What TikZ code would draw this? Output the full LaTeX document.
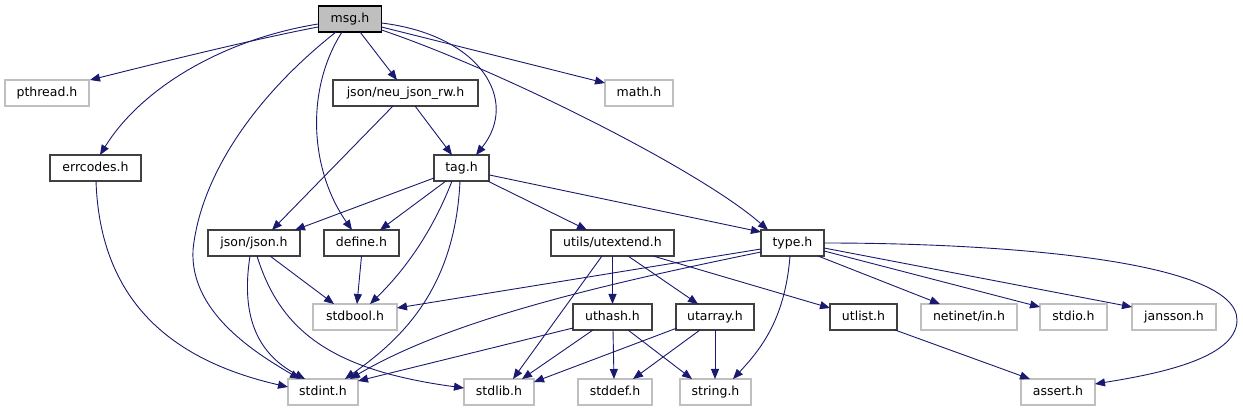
\documentclass[tikz,border=0pt]{standalone}
\usepackage{fontspec}
\newfontfamily\dvs{DejaVu Sans}
\usetikzlibrary{arrows.meta,calc}
\definecolor{mblue}{HTML}{191970}
\definecolor{gtwo}{HTML}{404040}
\definecolor{gsev}{HTML}{BFBFBF}
\tikzset{
  basebox/.style={draw, minimum height=26pt, inner sep=0pt, text height=9.5pt, text depth=2.5pt,
    font=\dvs\fontsize{12.5}{14}\selectfont, line width=1.1pt, anchor=center},
  intbox/.style={basebox, draw=gtwo, fill=white},
  extbox/.style={basebox, draw=gsev, fill=white},
  rootbox/.style={basebox, draw=black, fill=gsev},
  dep/.style={draw=mblue, line width=0.9pt, -{Triangle[length=10pt,width=8pt]}}
}
\begin{document}
\begin{tikzpicture}[x=1pt,y=-1pt]
\useasboundingbox (0,0) rectangle (1243,411);
% nodes
\node[rootbox, minimum width=63pt] (msg) at (350,19) {msg.h};
\node[extbox, minimum width=84pt] (pthread) at (47,93) {pthread.h};
\node[intbox, minimum width=145pt] (neu) at (405.5,93) {json/neu\_json\_rw.h};
\node[extbox, minimum width=68pt] (math) at (639,93) {math.h};
\node[intbox, minimum width=91pt] (errcodes) at (95.5,168) {errcodes.h};
\node[intbox, minimum width=55pt] (tag) at (461.5,168) {tag.h};
\node[intbox, minimum width=92pt] (json) at (254,243) {json/json.h};
\node[intbox, minimum width=75pt] (define) at (361.5,243) {define.h};
\node[intbox, minimum width=123pt] (utext) at (612.5,243) {utils/utextend.h};
\node[intbox, minimum width=63pt] (type) at (792.5,243) {type.h};
\node[extbox, minimum width=84pt] (stdbool) at (355,317) {stdbool.h};
\node[intbox, minimum width=79pt] (uthash) at (612.5,317) {uthash.h};
\node[intbox, minimum width=78pt] (utarray) at (715,317) {utarray.h};
\node[intbox, minimum width=67pt] (utlist) at (863.5,317) {utlist.h};
\node[extbox, minimum width=96pt] (netinet) at (969,317) {netinet/in.h};
\node[extbox, minimum width=67pt] (stdio) at (1073.5,317) {stdio.h};
\node[extbox, minimum width=84pt] (jansson) at (1174,317) {jansson.h};
\node[extbox, minimum width=70pt] (stdint) at (323,392) {stdint.h};
\node[extbox, minimum width=70pt] (stdlib) at (499,392) {stdlib.h};
\node[extbox, minimum width=74pt] (stddef) at (615,392) {stddef.h};
\node[extbox, minimum width=71pt] (string) at (715.5,392) {string.h};
\node[extbox, minimum width=74pt] (assert) at (1058,392) {assert.h};
% edges from msg.h
\draw[dep] ($(msg)+(-32,8)$) .. controls (250,40) and (150,65) .. ($(pthread)+(43,-13)$);
\draw[dep] ($(msg)+(-32,5)$) .. controls (220,40) and (140,90) .. ($(errcodes)+(4.5,-13)$);
\draw[dep] ($(msg)+(-14,13)$) .. controls (250,100) and (200,180) .. (193,250) .. controls (190,310) and (250,350) .. ($(stdint)+(-23,-13)$);
\draw[dep] ($(msg)+(-8,13)$) .. controls (305,90) and (310,170) .. ($(define)+(-9.5,-13)$);
\draw[dep] ($(msg)+(10,13)$) -- ($(neu)+(-8.5,-13)$);
\draw[dep] ($(msg)+(31.5,4)$) .. controls (480,35) and (520,100) .. ($(tag)+(14.5,-13)$);
\draw[dep] ($(msg)+(31.5,8)$) -- ($(math)+(-34,-10)$);
\draw[dep] ($(msg)+(31.5,11)$) .. controls (500,70) and (700,170) .. ($(type)+(-24.5,-13)$);
% neu_json_rw
\draw[dep] ($(neu)+(-12.5,13)$) -- ($(json)+(18,-13)$);
\draw[dep] ($(neu)+(9.5,13)$) -- ($(tag)+(-9.5,-13)$);
% tag
\draw[dep] ($(tag)+(-27.5,10)$) -- ($(json)+(41,-13)$);
\draw[dep] ($(tag)+(-15.5,13)$) -- ($(define)+(18.5,-13)$);
\draw[dep] ($(tag)+(-9.5,13)$) .. controls (435,225) and (410,265) .. ($(stdbool)+(15,-13)$);
\draw[dep] ($(tag)+(-1.5,13)$) .. controls (455,290) and (400,340) .. ($(stdint)+(22,-13)$);
\draw[dep] ($(tag)+(26,13)$) -- ($(utext)+(-25.5,-13)$);
\draw[dep] ($(tag)+(28,7)$) -- ($(type)+(-31.5,-11)$);
% errcodes
\draw[dep] ($(errcodes)+(0.5,13)$) .. controls (100,300) and (170,360) .. ($(stdint)+(-35,-5)$);
% json
\draw[dep] ($(json)+(16,13)$) -- ($(stdbool)+(-21,-13)$);
\draw[dep] ($(json)+(-4,13)$) .. controls (240,320) and (260,355) .. ($(stdint)+(-18,-13)$);
\draw[dep] ($(json)+(3,13)$) .. controls (280,330) and (330,370) .. ($(stdlib)+(-35,-4)$);
% define
\draw[dep] ($(define)+(0,13)$) -- ($(stdbool)+(2,-13)$);
% utextend
\draw[dep] ($(utext)+(-10.5,13)$) -- ($(stdlib)+(14,-13)$);
\draw[dep] ($(utext)+(0,13)$) -- ($(uthash)+(0,-13)$);
\draw[dep] ($(utext)+(15.5,13)$) -- ($(utarray)+(-17,-13)$);
\draw[dep] ($(utext)+(40.5,13)$) -- ($(utlist)+(-33.5,-9)$);
% type
\draw[dep] ($(type)+(-31.5,6)$) -- ($(stdbool)+(42,-9)$);
\draw[dep] ($(type)+(-31.5,9)$) .. controls (600,285) and (450,320) .. ($(stdint)+(27,-13)$);
\draw[dep] ($(type)+(-2.5,13)$) .. controls (785,320) and (760,350) .. ($(string)+(17.5,-13)$);
\draw[dep] ($(type)+(25.5,13)$) -- ($(netinet)+(-29,-13)$);
\draw[dep] ($(type)+(31.5,8)$) -- ($(stdio)+(-33.5,-10)$);
\draw[dep] ($(type)+(31.5,5)$) -- ($(jansson)+(-42,-10)$);
\draw[dep] ($(type)+(31.5,0)$) .. controls (1000,243) and (1237,260) .. (1237,320) .. controls (1237,360) and (1150,375) .. ($(assert)+(37,-8)$);
% uthash
\draw[dep] ($(uthash)+(-39.5,11)$) -- ($(stdint)+(35,-11)$);
\draw[dep] ($(uthash)+(-19.5,13)$) -- ($(stdlib)+(23,-13)$);
\draw[dep] ($(uthash)+(0.5,13)$) -- ($(stddef)+(-1,-13)$);
\draw[dep] ($(uthash)+(15.5,13)$) -- ($(string)+(-23.5,-13)$);
% utarray
\draw[dep] ($(utarray)+(-38,11)$) -- ($(stdlib)+(35,-10)$);
\draw[dep] ($(utarray)+(-15,13)$) -- ($(stddef)+(18,-13)$);
\draw[dep] ($(utarray)+(0,13)$) -- ($(string)+(-0.5,-13)$);
% utlist
\draw[dep] ($(utlist)+(31.5,13)$) -- ($(assert)+(-28,-13)$);
\end{tikzpicture}
\end{document}
